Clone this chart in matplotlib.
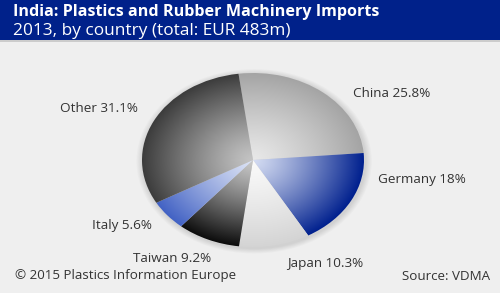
import numpy as np
import matplotlib
matplotlib.use("Agg")
import matplotlib.pyplot as plt
from matplotlib.patches import Rectangle, Ellipse

# data
countries = ["China", "Germany", "Japan", "Taiwan", "Italy", "Other"]
shares = [25.8, 18.0, 10.3, 9.2, 5.6, 31.1]
share_labels = ["25.8%", "18%", "10.3%", "9.2%", "5.6%", "31.1%"]

# radial gradient per slice: (centre colour, rim colour)
inner_colors = ["#e8e8e8", "#d4dcf2", "#fafafa", "#c8c8c8", "#dce3f5", "#c4c4c4"]
outer_colors = ["#a4a4a4", "#00208e", "#d4d4d4", "#0c0c0c", "#4262c4", "#3c3c3c"]

# label anchor points in figure pixels (left edge, vertical centre)
label_pos = [(353, 93), (378, 179), (287, 264), (133, 258), (92, 226), (60, 108)]

W, H = 500, 300
fig = plt.figure(figsize=(5, 3), dpi=100, facecolor="#efefef")
plt.rcParams['font.family'] = ['Open Sans', 'DejaVu Sans']


def px(x, y):
    return x / W, 1 - y / H


# header band
fig.patches.append(Rectangle((0, 1 - 40 / H), 1, 40 / H, transform=fig.transFigure,
                             facecolor="#00218a", edgecolor="none", zorder=0))
fig.patches.append(Rectangle((0, 1 - 42 / H), 1, 2 / H, transform=fig.transFigure,
                             facecolor="#cccccc", edgecolor="none", zorder=0))
# white strip at bottom
fig.patches.append(Rectangle((0, 0), 1, 7 / H, transform=fig.transFigure,
                             facecolor="white", edgecolor="none", zorder=0))

fig.text(*px(13, 12), "India: Plastics and Rubber Machinery Imports", color="white",
         fontsize=11.6, fontweight="bold", va="center", ha="left")
fig.text(*px(13, 31), "2013, by country (total: EUR 483m)", color="white",
         fontsize=12.4, va="center", ha="left")

# pie axes: ellipse centre (253,160), rx 111, ry 87
cx, cy, rx, ry = 253, 160, 111, 87
ax = fig.add_axes([(cx - rx) / W, 1 - (cy + ry) / H, 2 * rx / W, 2 * ry / H])
ax.set_facecolor("none")

# soft shadow around the pie
for k in range(6):
    s = 1.0 + 0.01 * (k + 1)
    ax.add_patch(Ellipse((0.01, -0.015), 2 * s, 2 * s, facecolor="#000000", alpha=0.018,
                         edgecolor="none", zorder=0, clip_on=False))

wedges, _ = ax.pie(shares, startangle=97.5, counterclock=False, radius=1,
                   wedgeprops=dict(edgecolor="none"))
ax.set_aspect("auto")
ax.set_xlim(-1, 1)
ax.set_ylim(-1, 1)
ax.axis("off")

gx, gy = np.meshgrid(np.linspace(-1, 1, 400), np.linspace(-1, 1, 400))
rr = np.clip(np.hypot(gx, gy), 0, 1)[..., None]
for w, c0, c1 in zip(wedges, inner_colors, outer_colors):
    a = np.array(matplotlib.colors.to_rgb(c0))
    b = np.array(matplotlib.colors.to_rgb(c1))
    img = a + (b - a) * rr ** 1.2
    w.set_facecolor("none")
    im = ax.imshow(img, extent=[-1, 1, -1, 1], origin="lower", zorder=2,
                   interpolation="bilinear", aspect="auto")
    im.set_clip_path(w)

for name, lab, (lx, ly) in zip(countries, share_labels, label_pos):
    fig.text(*px(lx, ly), f"{name} {lab}", color="#333333", fontsize=9.7,
             va="center", ha="left")

fig.text(*px(15, 276), "\u00a9 2015 Plastics Information Europe", color="#333333",
         fontsize=9.6, va="center", ha="left")
fig.text(*px(490, 276), "Source: VDMA", color="#333333", fontsize=9.6,
         va="center", ha="right")

fig.savefig("out.png", dpi=100, facecolor=fig.get_facecolor())
